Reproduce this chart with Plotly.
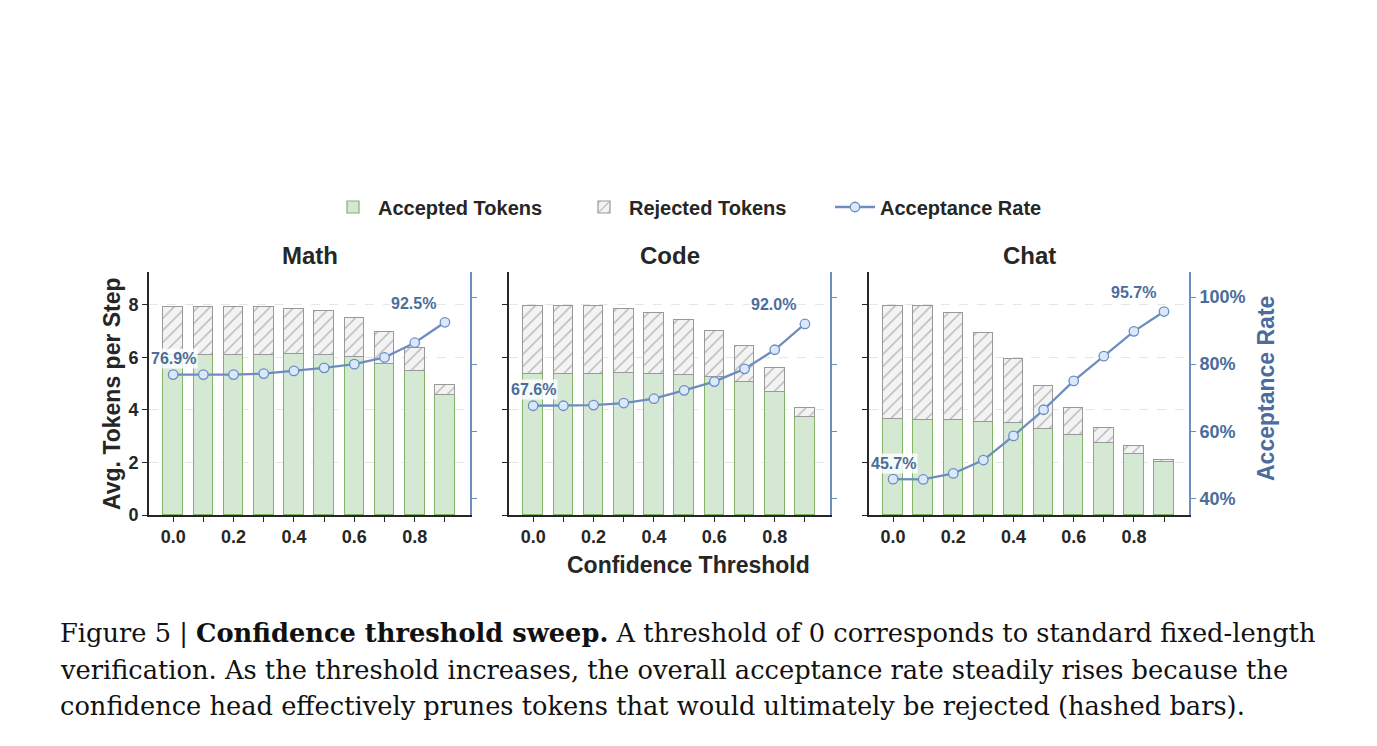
import plotly.graph_objects as go
from plotly.subplots import make_subplots

thresholds = [0.0, 0.1, 0.2, 0.3, 0.4, 0.5, 0.6, 0.7, 0.8, 0.9]
panels = ["Math", "Code", "Chat"]

math_accepted = [6.08, 6.08, 6.08, 6.10, 6.11, 6.10, 6.00, 5.73, 5.48, 4.55]
math_rejected = [1.85, 1.85, 1.85, 1.81, 1.75, 1.67, 1.50, 1.25, 0.86, 0.38]
math_rate = [76.9, 76.9, 76.9, 77.2, 78.0, 78.9, 80.0, 82.0, 86.4, 92.5]

code_accepted = [5.37, 5.37, 5.37, 5.39, 5.35, 5.34, 5.25, 5.06, 4.69, 3.74]
code_rejected = [2.59, 2.59, 2.58, 2.47, 2.34, 2.10, 1.76, 1.38, 0.89, 0.32]
code_rate = [67.6, 67.6, 67.8, 68.4, 69.7, 72.2, 74.8, 78.6, 84.3, 92.0]

chat_accepted = [3.64, 3.61, 3.62, 3.55, 3.49, 3.26, 3.05, 2.74, 2.34, 2.00]
chat_rejected = [4.33, 4.34, 4.07, 3.38, 2.44, 1.66, 1.04, 0.59, 0.27, 0.09]
chat_rate = [45.7, 45.6, 47.4, 51.4, 58.6, 66.4, 75.0, 82.4, 89.8, 95.7]

x_tick_vals = thresholds
x_tick_text = ["0.0", "", "0.2", "", "0.4", "", "0.6", "", "0.8", ""]
left_ticks = [0, 2, 4, 6, 8]
right_ticks = [40, 60, 80, 100]
right_tick_text = ["40%", "60%", "80%", "100%"]

caption_lines = [
    "Figure 5 | <b>Confidence threshold sweep.</b> A threshold of 0 corresponds to standard fixed-length",
    "verification. As the threshold increases, the overall acceptance rate steadily rises because the",
    "confidence head effectively prunes tokens that would ultimately be rejected (hashed bars).",
]

data = [
    (math_accepted, math_rejected, math_rate),
    (code_accepted, code_rejected, code_rate),
    (chat_accepted, chat_rejected, chat_rate),
]

W, H = 1377, 746
H_EFF = 736
FONT = "Liberation Sans"
DARK = "#262626"
BLUE = "#6c8ebf"
BLUE_TXT = "#4a6d9c"
GREEN_FILL = "#d5e8d4"
GREEN_EDGE = "#82b366"


def py(px):
    return 1 - px / H_EFF


x_domains_px = [(149, 470), (509, 830), (869, 1189)]
y_top_px, y_bot_px = 272, 515
y_domain = [py(y_bot_px), py(y_top_px)]

fig = make_subplots(rows=1, cols=3, specs=[[{"secondary_y": True}] * 3])

for i, (acc, rej, rate) in enumerate(data):
    col = i + 1
    first = i == 0
    fig.add_trace(go.Bar(
        x=thresholds, y=acc, width=0.065, name="Accepted Tokens",
        marker=dict(color=GREEN_FILL, line=dict(color=GREEN_EDGE, width=1.2)),
        showlegend=first, legendgroup="acc", hoverinfo="skip",
    ), row=1, col=col, secondary_y=False)
    fig.add_trace(go.Bar(
        x=thresholds, y=rej, width=0.065, name="Rejected Tokens",
        marker=dict(color="#f3f3f3", line=dict(color="#999999", width=1.2),
                    pattern=dict(shape="/", fgcolor="#777777", bgcolor="#f3f3f3",
                                 size=8.5, solidity=0.16)),
        showlegend=first, legendgroup="rej", hoverinfo="skip",
    ), row=1, col=col, secondary_y=False)
    fig.add_trace(go.Scatter(
        x=thresholds, y=rate, mode="lines+markers", name="Acceptance Rate",
        line=dict(color=BLUE, width=2.3),
        marker=dict(size=9.5, color="#dae8fc", line=dict(color=BLUE, width=1.3)),
        showlegend=first, legendgroup="rate", hoverinfo="skip",
    ), row=1, col=col, secondary_y=True)

    d0, d1 = x_domains_px[i]
    fig.update_xaxes(
        domain=[d0 / W, d1 / W], range=[-0.08, 0.983],
        tickvals=x_tick_vals, ticktext=x_tick_text,
        ticks="outside", ticklen=5, tickwidth=1.2, tickcolor=DARK,
        showline=True, linecolor=DARK, linewidth=1.6, showgrid=False, zeroline=False,
        tickfont=dict(family=FONT, size=18, color=DARK, weight="bold"),
        row=1, col=col,
    )
    fig.update_yaxes(
        domain=y_domain, range=[0, 9.25], tickvals=left_ticks,
        showticklabels=first,
        ticks="outside", ticklen=5, tickwidth=1.2, tickcolor=DARK,
        showline=True, linecolor=DARK, linewidth=1.6,
        showgrid=True, gridcolor="#e6e6e6", griddash="dash", gridwidth=1, zeroline=False,
        tickfont=dict(family=FONT, size=18, color=DARK, weight="bold"),
        row=1, col=col, secondary_y=False,
    )
    fig.update_yaxes(
        range=[35, 107.5], tickvals=right_ticks, ticktext=right_tick_text,
        showticklabels=(i == 2),
        ticks="outside", ticklen=5, tickwidth=1.2, tickcolor=BLUE,
        showline=True, linecolor=BLUE, linewidth=1.6, showgrid=False, zeroline=False,
        tickfont=dict(family=FONT, size=18, color=BLUE_TXT, weight="bold"),
        row=1, col=col, secondary_y=True,
    )

    yref2 = ["y2", "y4", "y6"][i]
    xref = ["x", "x2", "x3"][i]
    fig.add_annotation(
        x=thresholds[0], y=rate[0], xref=xref, yref=yref2,
        xanchor="center", yanchor="middle",
        text=f"{rate[0]:.1f}%", showarrow=False, yshift=16,
        font=dict(family=FONT, size=16, color=BLUE_TXT, weight="bold"),
        bgcolor="rgba(255,255,255,0.8)", borderpad=1,
    )
    fig.add_annotation(
        x=thresholds[-1], y=rate[-1], xref=xref, yref=yref2,
        xanchor="center", yanchor="middle",
        text=f"{rate[-1]:.1f}%", showarrow=False, xshift=-31, yshift=19,
        font=dict(family=FONT, size=16, color=BLUE_TXT, weight="bold"),
        bgcolor="rgba(255,255,255,0.8)", borderpad=1,
    )
    fig.add_annotation(
        x=((d0 + d1) / 2) / W, y=py(255), xref="paper", yref="paper",
        xanchor="center", yanchor="middle",
        text=panels[i], showarrow=False,
        font=dict(family=FONT, size=24, color=DARK, weight="bold"),
    )

fig.add_annotation(
    x=112 / W, y=py(394), xref="paper", yref="paper", textangle=-90,
    xanchor="center", yanchor="middle",
    text="Avg. Tokens per Step", showarrow=False,
    font=dict(family=FONT, size=23, color=DARK, weight="bold"),
)
fig.add_annotation(
    x=1266 / W, y=py(389), xref="paper", yref="paper", textangle=-90,
    xanchor="center", yanchor="middle",
    text="Acceptance Rate", showarrow=False,
    font=dict(family=FONT, size=23, color=BLUE_TXT, weight="bold"),
)
fig.add_annotation(
    x=689 / W, y=py(565), xref="paper", yref="paper",
    xanchor="center", yanchor="middle",
    text="Confidence Threshold", showarrow=False,
    font=dict(family=FONT, size=23, color=DARK, weight="bold"),
)

for k, line in enumerate(caption_lines):
    fig.add_annotation(
        x=58 / W, y=py(633 + 36.5 * k), xref="paper", yref="paper",
        xanchor="left", yanchor="middle", text=line, showarrow=False,
        font=dict(family="DejaVu Serif", size=25.7, color="#111111"),
    )

fig.update_layout(
    width=W, height=H, autosize=False, margin=dict(l=0, r=0, t=0, b=0),
    paper_bgcolor="white", plot_bgcolor="white",
    barmode="stack", bargap=0,
    legend=dict(
        orientation="h", x=328 / W, xanchor="left", y=py(207), yanchor="middle",
        font=dict(family=FONT, size=20, color=DARK, weight="bold"),
        bgcolor="rgba(0,0,0,0)", itemwidth=40, entrywidth=196, entrywidthmode="pixels",
    ),
)

fig.write_html("out.html", config={"responsive": False})
